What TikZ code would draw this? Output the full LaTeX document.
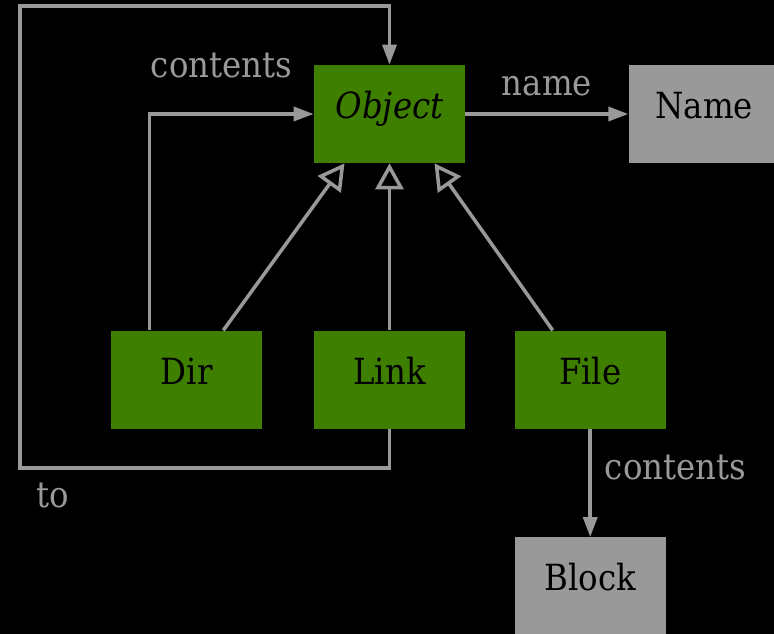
\documentclass[tikz,border=0pt]{standalone}
\usepackage{fontspec}
\setmainfont{DejaVu Serif Condensed}
\usetikzlibrary{arrows.meta}
\usetikzlibrary{positioning}

\definecolor{boxgreen}{HTML}{3F7F00}
\definecolor{linegray}{HTML}{999999}

\begin{document}
\begin{tikzpicture}[
  cls/.style={fill=boxgreen, minimum width=3.02cm, minimum height=1.96cm, inner sep=0pt, text height=16pt, text depth=11pt, font=\fontsize{20.5}{24}\selectfont},
  ext/.style={cls, fill=linegray},
  conn/.style={draw=linegray, line width=2pt, -{Triangle[length=0.4cm,width=0.28cm]}},
  isa/.style={draw=linegray, line width=2pt, -{Triangle[open,length=0.52cm,width=0.56cm]}},
  lbl/.style={text=linegray, font=\fontsize{20.5}{24}\selectfont}
]
  \fill[black] (-7.79,2.28) rectangle (7.69,-10.40);
  \useasboundingbox (-7.79,2.28) rectangle (7.69,-10.40);

  \node [cls] (iobject) {\textit{Object}};
  \node [ext] (iname) [right=3.26cm of iobject] {Name};

  \node [cls] (ilink) [below=3.34cm of iobject] {Link};
  \node [cls] (idir) [left=1.02cm of ilink] {Dir};
  \node [cls] (ifile) [right=0.98cm of ilink] {File};

  \node [ext] (iblock) [below=2.16cm of ifile] {Block};

  \coordinate (iloopbl) at (-7.39,-7.08);
  \coordinate (ilooptl) at (-7.39,2.16);

  \draw [conn] (iobject) -- node [lbl, above=6pt] {name} (iname);
  \draw [conn] (ifile) -- node [lbl, pos=0.36, right=4pt] {contents} (iblock);
  \draw [conn] ([xshift=-0.75cm]idir.north) |- node [lbl, pos=0.72, above=16pt] {contents} (iobject.west);
  \draw [conn] (ilink.south) |- (iloopbl) node [lbl, below right=4pt and 5pt] {to} |- (ilooptl) -| (iobject.north);

  \draw [isa] ([xshift=0.73cm]idir.north) -- ([xshift=-0.9cm]iobject.south);
  \draw [isa] (ilink) -- (iobject);
  \draw [isa] ([xshift=-0.75cm]ifile.north) -- ([xshift=0.9cm]iobject.south);
\end{tikzpicture}
\end{document}
